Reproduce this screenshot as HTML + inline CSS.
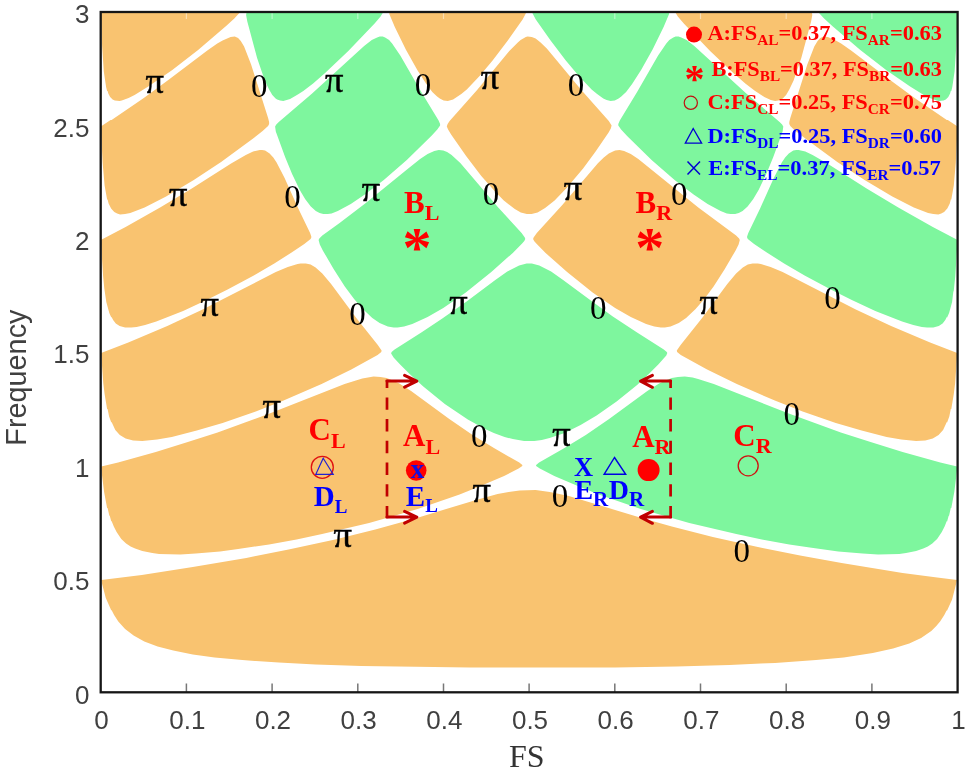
<!DOCTYPE html>
<html><head><meta charset="utf-8"><title>Band map</title><style>html,body{margin:0;padding:0;background:#fff}svg{display:block;filter:blur(0.35px)}</style></head><body>
<svg width="966" height="771" viewBox="0 0 966 771">
<rect width="966" height="771" fill="#fff"/>
<path fill="#f9c370" d="M101.3,579.9L102.1,584.1L105.8,597.9L111.1,610.1L111.8,610.6L114.1,615.1L118.3,621.6L125.1,629.1L133.6,635.6L144.3,641.4L157.6,646.4L173.3,650.6L192.8,654.4L214.6,657.4L242.3,660.1L278.8,662.6L315.6,664.4L361.3,665.9L470.1,667.6L614.8,667.4L676.3,666.4L729.6,664.9L775.1,662.9L816.1,660.1L843.8,657.4L872.8,653.1L893.1,648.6L909.3,643.4L921.1,637.9L931.3,630.9L936.3,626.1L940.1,621.6L944.3,615.1L946.6,610.6L947.1,610.6L952.1,599.4L957.1,579.9L937.1,577.6L902.6,572.9L841.6,563.1L800.1,555.6L755.6,546.6L712.8,536.9L671.8,526.4L641.6,517.9L568.8,496.1L549.8,491.9L535.6,490.1L519.6,490.4L508.6,491.9L497.6,494.1L476.1,499.9L416.8,517.9L375.3,529.4L335.1,539.4L288.6,549.6L246.3,557.9L192.8,567.1L141.8,574.9ZM522.3,465.1L519.3,462.6L494.8,448.6L472.6,434.9L449.3,419.1L411.1,391.1L399.3,383.6L392.8,380.4L386.6,378.1L380.6,376.9L373.6,376.6L362.3,378.4L344.6,383.9L269.6,413.6L217.6,432.4L187.8,442.1L155.8,451.9L118.1,462.4L101.3,466.4L101.1,467.9L104.1,491.9L107.1,507.9L107.6,508.1L109.3,515.6L109.8,515.9L111.3,521.4L111.6,520.9L113.8,526.6L116.6,532.1L121.3,538.9L126.1,543.4L130.6,546.4L135.1,548.6L142.3,551.1L152.3,553.1L159.1,553.9L180.3,554.4L195.8,553.6L220.1,551.4L238.1,549.1L269.1,544.4L296.6,539.4L322.1,534.1L369.1,522.9L395.3,515.6L417.6,508.9L459.6,494.4L480.6,486.1L504.1,475.9L518.6,468.6L522.3,465.9ZM676.8,350.6L677.1,352.1L680.8,355.1L707.1,369.6L736.8,384.1L774.8,400.6L802.6,411.4L835.8,422.9L861.6,430.6L886.6,436.9L901.3,439.6L916.1,441.1L925.3,440.6L932.8,438.6L938.6,435.1L943.1,429.9L946.8,422.1L947.1,422.6L949.3,416.4L950.8,409.1L951.3,408.9L953.8,394.1L955.1,383.4L957.3,353.1L930.1,342.6L891.1,325.9L855.8,309.4L782.6,272.1L770.6,266.9L760.8,263.9L757.8,263.4L752.6,263.4L747.8,264.6L742.8,267.4L736.1,273.4L727.3,283.9L702.1,318.1L680.6,344.9ZM381.6,350.6L377.8,344.9L356.3,318.1L331.1,283.9L322.3,273.4L315.6,267.4L310.6,264.6L305.8,263.4L300.6,263.4L297.6,263.9L287.8,266.9L275.8,272.1L202.6,309.4L167.3,325.9L128.3,342.6L101.1,353.1L103.3,383.4L104.6,394.1L107.1,408.9L107.6,409.1L109.1,416.4L111.3,422.6L111.6,422.1L115.3,429.9L119.8,435.1L125.6,438.6L133.1,440.6L142.3,441.1L157.1,439.6L171.8,436.9L196.8,430.6L222.6,422.9L255.8,411.4L283.6,400.6L321.6,384.1L351.3,369.6L377.6,355.1L381.3,352.1ZM615.1,150.4L608.8,153.4L603.8,157.4L598.1,163.1L562.3,205.1L536.8,233.1L533.6,237.4L533.1,238.9L534.1,240.9L536.3,243.6L545.6,252.9L567.1,272.1L592.6,292.4L615.1,307.9L630.8,317.1L646.1,324.1L654.3,326.6L660.8,327.6L664.8,327.6L670.6,326.6L678.8,323.1L686.1,318.1L695.6,309.1L704.3,298.9L713.6,286.4L724.8,269.1L735.6,250.4L738.6,244.4L739.8,239.9L739.1,238.4L736.1,235.6L698.3,207.6L638.3,159.1L630.8,154.1L624.1,150.9L619.6,149.9ZM269.6,153.4L265.1,150.6L262.1,149.9L259.8,149.9L253.1,151.6L245.8,154.9L231.1,163.4L191.8,188.4L160.1,207.6L125.6,227.1L100.8,239.9L103.1,275.9L104.3,288.6L106.3,301.9L109.3,313.1L111.3,317.6L111.6,317.1L113.1,320.1L115.8,323.6L119.6,326.1L125.1,327.6L131.3,327.6L136.6,326.9L145.1,324.9L156.3,321.4L183.1,310.9L206.6,300.1L227.6,289.6L253.8,275.4L274.3,263.4L291.6,252.6L304.3,244.1L310.6,239.1L311.3,237.6L311.3,236.4L310.1,232.9L298.3,208.4L284.6,178.1L276.6,162.6L273.3,157.6ZM820.3,38.1L817.6,40.9L814.3,46.4L807.3,64.4L790.3,118.1L789.3,122.1L789.3,124.1L790.3,126.1L794.3,129.9L805.3,138.6L837.3,161.9L864.6,179.9L892.3,196.4L913.8,207.4L928.1,212.9L933.3,214.1L938.3,214.4L941.3,213.6L944.1,212.1L947.3,208.6L949.8,203.6L950.8,199.6L951.3,199.4L953.8,185.4L955.8,162.6L957.6,126.4L947.8,120.1L946.8,119.9L914.6,97.9L890.1,80.1L851.1,50.6L841.1,43.6L835.8,40.4L827.8,36.9L823.6,36.6ZM527.6,36.6L525.8,37.1L520.6,40.1L517.8,42.4L509.3,51.1L477.1,89.9L449.6,121.1L447.6,123.9L446.8,126.4L448.1,129.4L451.1,134.4L466.1,156.1L481.3,175.9L494.6,191.1L503.8,200.4L514.8,209.1L520.8,212.4L526.8,214.1L531.6,214.1L537.6,212.4L545.1,208.1L554.6,200.4L566.6,188.1L583.1,168.4L595.6,151.6L608.6,132.4L610.8,128.4L611.6,125.6L608.8,121.1L581.3,89.9L546.8,48.6L540.6,42.4L535.6,38.6L531.8,36.9ZM238.1,38.1L234.8,36.6L230.6,36.9L222.6,40.4L217.3,43.6L207.3,50.6L168.3,80.1L143.8,97.9L111.6,119.9L110.6,120.1L100.8,126.4L102.6,162.6L104.6,185.4L107.1,199.4L107.6,199.6L108.6,203.6L111.1,208.6L114.3,212.1L117.1,213.6L120.1,214.4L125.1,214.1L130.3,212.9L144.6,207.4L166.1,196.4L193.8,179.9L221.1,161.9L253.1,138.6L262.6,131.1L268.1,126.1L269.1,124.1L269.1,122.1L268.1,118.1L251.1,64.4L244.1,46.4L240.8,40.9ZM675.1,12.1L677.8,16.4L683.8,23.4L710.1,51.1L733.3,73.1L745.3,83.4L755.1,90.9L764.3,96.9L770.8,99.9L775.1,100.9L778.3,100.6L781.3,99.4L782.8,98.4L786.1,94.9L789.3,89.6L793.6,80.4L801.3,57.9L811.1,21.6L812.3,15.1L811.8,12.1ZM389.3,13.9L394.8,27.1L405.8,49.4L417.3,70.1L426.3,84.1L432.3,91.9L437.1,96.6L439.8,98.6L443.6,100.4L447.8,100.9L453.1,99.4L461.3,94.1L466.8,89.4L479.6,76.1L492.6,60.6L507.8,40.6L522.6,19.4L525.8,13.6L526.1,12.1L389.3,12.1ZM110.1,96.9L112.6,99.4L114.8,100.6L119.6,100.9L121.8,100.4L128.6,97.9L134.6,94.9L148.3,86.6L172.3,69.9L198.1,49.9L226.1,26.1L234.3,18.6L240.3,12.1L100.8,12.1L102.1,45.9L103.8,71.6L106.1,86.9L107.1,90.9L107.6,91.1L108.3,93.6Z"/>
<path fill="#7ef69e" d="M536.1,465.1L536.1,465.9L539.8,468.6L554.3,475.9L577.8,486.1L598.8,494.4L640.8,508.9L663.1,515.6L689.3,522.9L736.3,534.1L761.8,539.4L789.3,544.4L809.8,547.6L838.3,551.4L862.6,553.6L878.1,554.4L899.3,553.9L906.1,553.1L916.1,551.1L923.3,548.6L927.8,546.4L932.3,543.4L937.1,538.9L941.8,532.1L944.6,526.6L946.8,520.9L947.1,521.4L948.6,515.9L949.1,515.6L950.8,508.1L951.3,507.9L954.3,491.9L957.3,467.9L957.1,466.4L940.3,462.4L902.6,451.9L870.6,442.1L840.8,432.4L788.8,413.6L713.8,383.9L698.1,378.9L692.6,377.6L684.8,376.6L677.8,376.9L671.8,378.1L665.6,380.4L659.1,383.6L647.3,391.1L609.1,419.1L585.8,434.9L563.6,448.6L539.1,462.6ZM526.6,263.4L519.1,265.4L507.3,271.6L495.3,279.9L466.6,301.4L442.3,318.6L421.3,332.6L394.6,349.4L391.6,351.9L391.1,353.4L393.6,357.4L400.1,364.6L409.1,373.6L423.3,386.6L444.8,403.9L467.8,419.4L485.1,428.9L493.8,432.9L504.6,436.9L512.8,439.1L524.1,440.9L534.3,440.9L541.8,439.9L549.6,438.1L564.6,432.9L580.6,425.1L596.6,415.6L616.6,401.6L637.1,384.9L649.3,373.6L658.3,364.6L666.3,355.4L667.3,352.9L666.8,351.9L663.8,349.4L637.1,332.6L612.8,316.4L588.1,298.6L563.1,279.9L551.1,271.6L539.3,265.4L531.8,263.4ZM788.8,153.4L785.1,157.6L781.8,162.6L773.8,178.1L760.1,208.4L748.3,232.9L747.1,236.4L747.1,237.6L747.8,239.1L754.1,244.1L766.8,252.6L784.1,263.4L804.6,275.4L830.8,289.6L851.8,300.1L875.3,310.9L902.1,321.4L913.3,324.9L921.8,326.9L927.1,327.6L933.3,327.6L938.8,326.1L942.6,323.6L945.3,320.1L946.8,317.1L947.1,317.6L949.1,313.1L952.1,301.9L953.3,291.9L953.8,290.6L955.3,275.9L957.6,239.9L932.8,227.1L898.3,207.6L866.6,188.4L827.3,163.4L812.6,154.9L805.3,151.6L798.6,149.9L796.3,149.9L793.3,150.6ZM443.3,150.4L438.8,149.9L434.3,150.9L427.6,154.1L420.1,159.1L407.6,168.9L365.8,203.1L339.6,223.1L322.3,235.6L319.3,238.4L318.6,239.9L319.8,244.4L322.8,250.4L333.6,269.1L344.8,286.4L354.1,298.9L362.8,309.1L372.3,318.1L379.6,323.1L387.8,326.6L393.6,327.6L397.6,327.6L404.1,326.6L412.3,324.1L427.6,317.1L443.3,307.9L465.8,292.4L491.3,272.1L512.8,252.9L522.1,243.6L524.3,240.9L525.3,238.9L524.8,237.4L521.6,233.1L497.8,207.1L460.3,163.1L451.6,154.9L447.1,151.9ZM673.3,37.4L669.3,40.1L666.3,43.4L658.1,55.4L637.1,91.9L619.8,120.6L618.3,124.1L618.3,125.6L621.1,129.6L627.1,136.1L651.6,159.9L674.6,179.9L693.6,194.6L707.6,204.1L720.6,211.1L726.8,213.4L730.6,214.1L735.1,214.1L738.8,213.1L742.6,211.1L747.6,206.6L753.3,198.9L758.6,189.9L766.3,173.9L773.3,157.1L782.6,131.4L783.3,126.6L782.1,124.4L779.6,121.9L746.3,93.4L694.3,45.9L686.6,40.1L681.3,37.4L678.6,36.6L675.6,36.6ZM385.1,37.4L382.8,36.6L379.8,36.6L377.1,37.4L371.8,40.1L364.1,45.9L312.1,93.4L278.8,121.9L276.3,124.4L275.1,126.6L275.8,131.4L285.1,157.1L292.1,173.9L299.8,189.9L305.1,198.9L310.8,206.6L315.8,211.1L319.6,213.1L323.3,214.1L327.8,214.1L331.6,213.4L337.8,211.1L350.8,204.1L364.8,194.6L383.8,179.9L406.8,159.9L431.3,136.1L437.3,129.6L440.1,125.6L440.1,124.1L438.6,120.6L421.3,91.9L400.3,55.4L392.1,43.4L389.1,40.1ZM818.1,12.1L824.1,18.6L832.3,26.1L860.3,49.9L886.1,69.9L910.1,86.6L923.8,94.9L929.8,97.9L936.6,100.4L938.8,100.9L943.6,100.6L945.8,99.4L948.3,96.9L950.1,93.6L950.8,91.1L951.3,90.9L952.3,86.9L954.6,71.6L956.3,45.9L957.6,12.1ZM532.3,12.1L532.6,13.6L535.8,19.4L550.6,40.6L565.8,60.6L578.8,76.1L591.6,89.4L597.1,94.1L603.3,98.4L606.6,99.9L610.6,100.9L614.8,100.4L618.6,98.6L621.3,96.6L626.1,91.9L632.1,84.1L641.1,70.1L652.6,49.4L663.6,27.1L669.1,13.9L669.1,12.1ZM272.3,94.9L275.6,98.4L277.1,99.4L280.1,100.6L283.3,100.9L290.1,98.9L297.8,94.6L303.3,90.9L313.1,83.4L325.1,73.1L348.3,51.1L374.6,23.4L380.6,16.4L383.3,12.1L246.6,12.1L246.1,15.1L247.3,21.6L257.1,57.9L264.8,80.4L269.1,89.6Z"/>
<path d="M186.4,12.0v7M272.1,12.0v7M357.8,12.0v7M443.5,12.0v7M529.1,12.0v7M614.8,12.0v7M700.5,12.0v7M786.2,12.0v7M871.9,12.0v7" stroke="#fff" stroke-width="1.2" fill="none" opacity="0.45"/>
<path d="M186.4,692.3v-8.8M272.1,692.3v-8.8M357.8,692.3v-8.8M443.5,692.3v-8.8M529.1,692.3v-8.8M614.8,692.3v-8.8M700.5,692.3v-8.8M786.2,692.3v-8.8M871.9,692.3v-8.8" stroke="#777" stroke-width="1.5" fill="none"/>
<rect x="100.7" y="12.0" width="856.9" height="680.3" fill="none" stroke="#161616" stroke-width="2.3"/>
<g font-family="'Liberation Sans', Arial, sans-serif" font-size="26" fill="#404040">
<g text-anchor="middle">
<text x="101.6" y="729.2">0</text>
<text x="187.3" y="729.2">0.1</text>
<text x="273.0" y="729.2">0.2</text>
<text x="358.7" y="729.2">0.3</text>
<text x="444.4" y="729.2">0.4</text>
<text x="530.0" y="729.2">0.5</text>
<text x="615.7" y="729.2">0.6</text>
<text x="701.4" y="729.2">0.7</text>
<text x="787.1" y="729.2">0.8</text>
<text x="872.8" y="729.2">0.9</text>
<text x="958.5" y="729.2">1</text>
</g><g text-anchor="end">
<text x="89.5" y="703.6">0</text>
<text x="89.5" y="590.2">0.5</text>
<text x="89.5" y="476.8">1</text>
<text x="89.5" y="363.4">1.5</text>
<text x="89.5" y="250.1">2</text>
<text x="89.5" y="136.7">2.5</text>
<text x="89.5" y="23.3">3</text>
</g>
<text transform="translate(26.4,377.6) rotate(-90)" text-anchor="middle" font-size="28.8">Frequency</text>
</g>
<text x="526.7" y="766.6" text-anchor="middle" font-family="'Liberation Serif', 'Times New Roman', serif" font-size="32" fill="#333">FS</text>
<g font-family="'Liberation Serif', 'Times New Roman', serif" font-size="33" fill="#000" text-anchor="middle">
<text x="154.8" y="93.0" font-size="36.5" stroke="#000" stroke-width="0.45">π</text>
<text x="259.2" y="97.2">0</text>
<text x="334.1" y="92.0" font-size="36.5" stroke="#000" stroke-width="0.45">π</text>
<text x="422.9" y="96.0">0</text>
<text x="489.9" y="88.8" font-size="36.5" stroke="#000" stroke-width="0.45">π</text>
<text x="576.0" y="95.5">0</text>
<text x="178.3" y="205.8" font-size="36.5" stroke="#000" stroke-width="0.45">π</text>
<text x="292.4" y="208.0">0</text>
<text x="370.9" y="200.5" font-size="36.5" stroke="#000" stroke-width="0.45">π</text>
<text x="491.0" y="205.2">0</text>
<text x="573.0" y="200.1" font-size="36.5" stroke="#000" stroke-width="0.45">π</text>
<text x="679.3" y="204.7">0</text>
<text x="209.8" y="315.7" font-size="36.5" stroke="#000" stroke-width="0.45">π</text>
<text x="357.4" y="324.7">0</text>
<text x="458.4" y="314.3" font-size="36.5" stroke="#000" stroke-width="0.45">π</text>
<text x="598.3" y="319.0">0</text>
<text x="708.7" y="314.3" font-size="36.5" stroke="#000" stroke-width="0.45">π</text>
<text x="832.4" y="308.7">0</text>
<text x="271.8" y="417.5" font-size="36.5" stroke="#000" stroke-width="0.45">π</text>
<text x="479.3" y="447.2">0</text>
<text x="561.4" y="445.6" font-size="36.5" stroke="#000" stroke-width="0.45">π</text>
<text x="791.7" y="424.6">0</text>
<text x="481.7" y="502.2" font-size="36.5" stroke="#000" stroke-width="0.45">π</text>
<text x="559.9" y="506.6">0</text>
<text x="342.6" y="547.4" font-size="36.5" stroke="#000" stroke-width="0.45">π</text>
<text x="741.8" y="561.5">0</text>
</g>
<g font-family="'Liberation Serif', 'Times New Roman', serif" font-weight="bold">
<text x="404.0" y="212.8" fill="#ff0000" font-size="31">B<tspan font-size="22" dy="7.3">L</tspan></text>
<text x="635.5" y="212.7" fill="#ff0000" font-size="31">B<tspan font-size="22" dy="7.3">R</tspan></text>
<text x="308.6" y="440.3" fill="#ff0000" font-size="31">C<tspan font-size="22" dy="7.3">L</tspan></text>
<text x="403.0" y="445.8" fill="#ff0000" font-size="31">A<tspan font-size="22" dy="8.5">L</tspan></text>
<text x="632.2" y="446.5" fill="#ff0000" font-size="31">A<tspan font-size="22" dy="7.3">R</tspan></text>
<text x="733.3" y="446.0" fill="#ff0000" font-size="31">C<tspan font-size="22" dy="7.3">R</tspan></text>
<text x="313.8" y="506.1" fill="#0000ff" font-size="29">D<tspan font-size="19" dy="6.8">L</tspan></text>
<text x="405.8" y="506.1" fill="#0000ff" font-size="29">E<tspan font-size="19" dy="6.3">L</tspan></text>
<text x="574.4" y="499.2" fill="#0000ff" font-size="28">E<tspan font-size="21" dy="6.9">R</tspan></text>
<text x="608.7" y="499.2" fill="#0000ff" font-size="28">D<tspan font-size="21" dy="6.9">R</tspan></text>
<text x="417" y="266.8" text-anchor="middle" fill="#ff0000" font-size="58">*</text>
<text x="649.8" y="266.8" text-anchor="middle" fill="#ff0000" font-size="58">*</text>
<text x="583.5" y="475.6" text-anchor="middle" fill="#0000ff" font-size="26.5">X</text>
</g>
<circle cx="322.3" cy="467.3" r="11" fill="none" stroke="#e01010" stroke-width="1.3"/>
<path d="M323.2,458.2L333.2,474.3H315.8Z" fill="none" stroke="#2020d0" stroke-width="1.2"/>
<circle cx="416.2" cy="470.5" r="10.3" fill="#ff0000"/>
<text x="417.5" y="478" text-anchor="middle" fill="#1010e0" font-family="'Liberation Serif', serif" font-weight="bold" font-size="27">x</text>
<path d="M614.5,457.5L625.7,474.3H604.1Z" fill="none" stroke="#0000e0" stroke-width="1.4"/>
<circle cx="648.6" cy="470.1" r="11" fill="#ff0000"/>
<circle cx="748.2" cy="465.8" r="10" fill="none" stroke="#d01010" stroke-width="1.3"/>
<g stroke="#c00000" fill="none" stroke-linejoin="round">
<path d="M387.0,379.7V518.5M670.6,379.7V518.5" stroke-width="2.7" stroke-dasharray="12.4,9.3" stroke-dashoffset="4.0"/>
<path d="M387.0,381.1H416.4M404.6,375.3L416.8,381.1L404.6,387.1M387.0,517.1H416.4M404.6,511.3L416.8,517.1L404.6,523.1" stroke-width="3" stroke-linecap="round"/>
<path d="M670.6,381.1H641.0M652.4,375.3L640.6,381.1L652.4,387.3M670.6,517.1H641.0M652.4,511.3L640.6,517.1L652.4,523.3" stroke-width="3" stroke-linecap="round"/>
</g>
<circle cx="694" cy="34.6" r="8" fill="#ff0000"/>
<circle cx="690.8" cy="102.8" r="6.6" fill="none" stroke="#c01010" stroke-width="1.2"/>
<path d="M693.2,128.5L701.6,143.2H685.3Z" fill="none" stroke="#0000d0" stroke-width="1.3"/>
<path d="M687.5,161.6L700,174.5M700,161.6L687.5,174.5" fill="none" stroke="#0000d0" stroke-width="1.5"/>
<g font-family="'Liberation Serif', 'Times New Roman', serif" font-weight="bold" font-size="20.5">
<text x="694.5" y="92" text-anchor="middle" fill="#ff0000" font-size="40">*</text>
<text x="707.4" y="40.1" fill="#ff0000" textLength="234.5" lengthAdjust="spacingAndGlyphs">A:FS<tspan font-size="14" dy="5">AL</tspan><tspan dy="-5">=0.37, FS</tspan><tspan font-size="14" dy="5">AR</tspan><tspan dy="-5">=0.63</tspan></text>
<text x="711.4" y="76.3" fill="#ff0000" textLength="230.5" lengthAdjust="spacingAndGlyphs">B:FS<tspan font-size="14" dy="5">BL</tspan><tspan dy="-5">=0.37, FS</tspan><tspan font-size="14" dy="5">BR</tspan><tspan dy="-5">=0.63</tspan></text>
<text x="707.4" y="108.9" fill="#ff0000" textLength="234.5" lengthAdjust="spacingAndGlyphs">C:FS<tspan font-size="14" dy="5">CL</tspan><tspan dy="-5">=0.25, FS</tspan><tspan font-size="14" dy="5">CR</tspan><tspan dy="-5">=0.75</tspan></text>
<text x="707.4" y="143.2" fill="#0000ff" textLength="234.5" lengthAdjust="spacingAndGlyphs">D:FS<tspan font-size="14" dy="5">DL</tspan><tspan dy="-5">=0.25, FS</tspan><tspan font-size="14" dy="5">DR</tspan><tspan dy="-5">=0.60</tspan></text>
<text x="708.2" y="175.4" fill="#0000ff" textLength="232.5" lengthAdjust="spacingAndGlyphs">E:FS<tspan font-size="14" dy="5">EL</tspan><tspan dy="-5">=0.37, FS</tspan><tspan font-size="14" dy="5">ER</tspan><tspan dy="-5">=0.57</tspan></text>
</g>
</svg>
</body></html>
